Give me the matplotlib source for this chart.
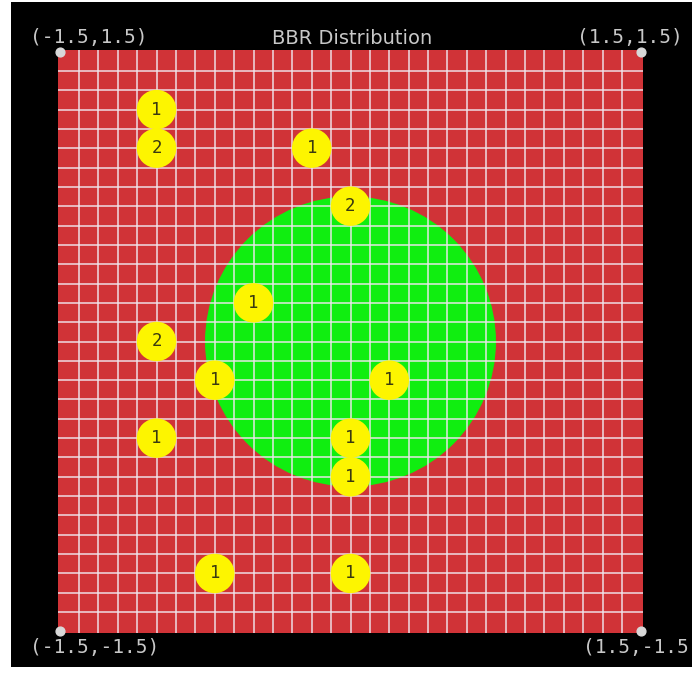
import matplotlib.pyplot as plt
from matplotlib.patches import Circle, Rectangle
import numpy as np

# BBR dagilimi: sari noktalar (konum ve sayi)
nokta_x = [-1.0, -1.0, -0.2, 0.0, -0.5, -1.0, -0.7, 0.2, -1.0, 0.0, 0.0, -0.7, 0.0]
nokta_y = [1.2, 1.0, 1.0, 0.7, 0.2, 0.0, -0.2, -0.2, -0.5, -0.5, -0.7, -1.2, -1.2]
sayilar = [1, 2, 1, 2, 1, 2, 1, 1, 1, 1, 1, 1, 1]

# yesil bolge
merkez = (0.0, 0.0)
yaricap = 0.75

kose_x = [-1.5, 1.5, -1.5, 1.5]
kose_y = [1.5, 1.5, -1.5, -1.5]
kose_etiket = ["(-1.5,1.5)", "(1.5,1.5)", "(-1.5,-1.5)", "(1.5,-1.5)"]

fig = plt.figure(figsize=(6.92, 6.80), dpi=100, facecolor="white")
# siyah zemin
fig.patches.append(Rectangle((11 / 692, 13 / 680), 1 - 11 / 692, (667 - 2) / 680,
                             transform=fig.transFigure, facecolor="black",
                             edgecolor="none", zorder=-10))

ax = fig.add_axes([58 / 692, (680 - 633) / 680, 585 / 692, 583 / 680])
ax.set_zorder(1)
ax.set_xlim(-1.508, 1.508)
ax.set_ylim(-1.508, 1.508)
ax.axis("off")

ax.add_patch(Rectangle((-1.508, -1.508), 3.016, 3.016, facecolor="#d03337",
                       edgecolor="none", zorder=0))
ax.add_patch(Circle(merkez, yaricap, facecolor="#10ee10", edgecolor="none", zorder=1))

izgara = np.round(np.arange(-1.4, 1.45, 0.1), 2)
for g in izgara:
    ax.plot([-1.508, 1.508], [g, g], color="#f0e6ee", alpha=0.8, lw=1.3, zorder=2)
    ax.plot([g, g], [-1.508, 1.508], color="#f0e6ee", alpha=0.8, lw=1.3, zorder=2)

for x, y, n in zip(nokta_x, nokta_y, sayilar):
    ax.add_patch(Circle((x, y), 0.102, facecolor="#fdf500", edgecolor="none", zorder=3))
    ax.text(x, y, str(n), ha="center", va="center", fontsize=12.5,
            family="DejaVu Sans Mono", color="#3a3a10", zorder=4)

ax.scatter(kose_x, kose_y, s=40, color="#d8d8d8", zorder=5, clip_on=False)

gri = "#c8c8c8"
fig.text(30 / 692, 1 - 38 / 680, kose_etiket[0], ha="left", va="center",
         fontsize=14, family="DejaVu Sans Mono", color=gri)
fig.text(683 / 692, 1 - 38 / 680, kose_etiket[1], ha="right", va="center",
         fontsize=14, family="DejaVu Sans Mono", color=gri)
fig.text(30 / 692, 1 - 647 / 680, kose_etiket[2], ha="left", va="center",
         fontsize=14, family="DejaVu Sans Mono", color=gri)
fig.text(583 / 692, 1 - 647 / 680, kose_etiket[3], ha="left", va="center",
         fontsize=14, family="DejaVu Sans Mono", color=gri)
fig.text(352 / 692, 1 - 38 / 680, "BBR Distribution", ha="center", va="center",
         fontsize=14, color=gri)

plt.savefig("out.png", dpi=100, facecolor="white")
